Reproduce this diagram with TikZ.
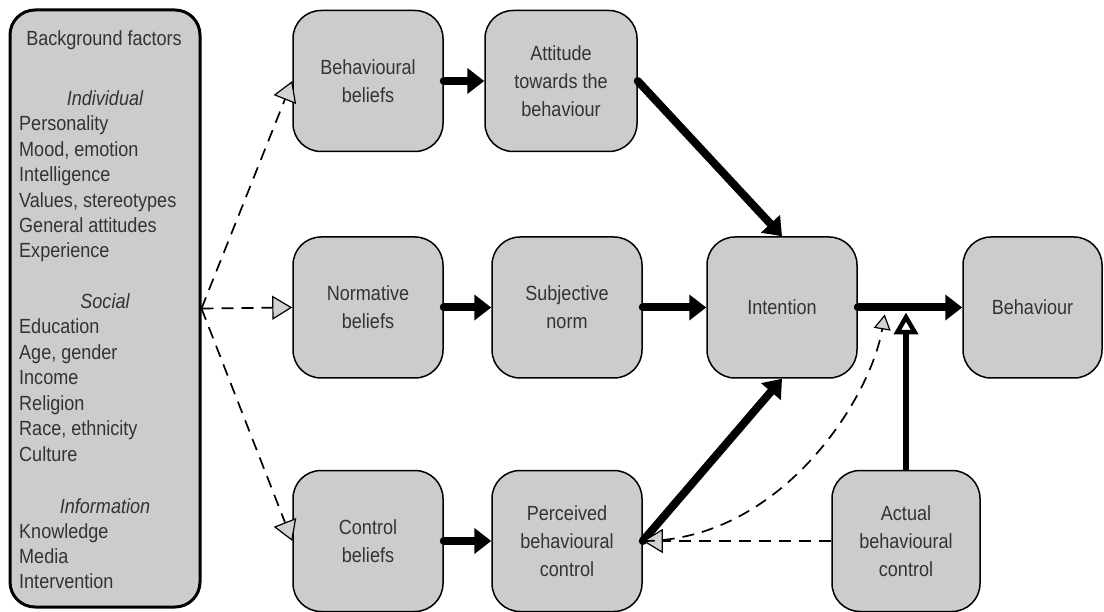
\documentclass[tikz,border=0pt]{standalone}
\usepackage{fontspec}
\setmainfont{Liberation Sans}[FakeStretch=0.88]
\usetikzlibrary{arrows.meta, calc, positioning}

\begin{document}
\begin{tikzpicture}[x=1pt, y=-1pt,
    box/.style={draw, fill=gray!40, line width=1.5pt, rounded corners=28pt,
        minimum width=150pt, minimum height=141pt, align=center,
        text=black!80, font=\fontsize{20.5}{28}\selectfont},
    item/.style={anchor=base west, inner sep=0pt, text=black!80,
        font=\fontsize{20.5}{22}\selectfont},
    head/.style={anchor=base, inner sep=0pt, text=black!80,
        font=\fontsize{20.5}{22}\selectfont\itshape},
    main/.style={line width=8pt, line cap=round,
        -{Triangle[length=17pt, width=25pt]}},
    infl/.style={line width=1.7pt, dash pattern=on 12pt off 8pt,
        -{Triangle[length=20pt, width=24pt, fill=gray!35, line width=1.2pt]}}
]
        \useasboundingbox (0,0) rectangle (1104,612);

        % Background factors
        \node[draw, fill=gray!40, line width=3pt, rounded corners=25pt,
            minimum width=190pt, minimum height=597pt] (bgf) at (105,308.5) {};
        \node[head, font=\fontsize{20.5}{22}\selectfont] (bgtitle) at (104,46) {Background factors};

        \node[head] (indiv) at (105,106) {Individual};
        \foreach \txt [count=\i] in {Personality, {Mood, emotion}, Intelligence,
            {Values, stereotypes}, General attitudes, Experience}
            \node[item] (ind\i) at (19,{131+25.4*(\i-1)}) {\txt};

        \node[head] (social) at (105,309) {Social};
        \foreach \txt [count=\i] in {Education, {Age, gender}, Income, Religion,
            {Race, ethnicity}, Culture}
            \node[item] (soc\i) at (19,{334+25.4*(\i-1)}) {\txt};

        \node[head] (inform) at (105,513) {Information};
        \foreach \txt [count=\i] in {Knowledge, Media, Intervention}
            \node[item] (inf\i) at (19,{538+25.4*(\i-1)}) {\txt};

        % Beliefs
        \node[box] (bbel) at (368,81) {Behavioural\\beliefs};
        \node[box] (nbel) at (368,307.5) {Normative\\beliefs};
        \node[box] (cbel) at (368,541) {Control\\beliefs};

        % Attitude, norm, control
        \node[box, minimum width=152pt] (att) at (561,81) {Attitude\\towards the\\behaviour};
        \node[box] (subj) at (567,307.5) {Subjective\\norm};
        \node[box] (pbc) at (567,541) {Perceived\\behavioural\\control};

        % Intention and behaviour
        \node[box] (intn) at (782,307.5) {Intention};
        \node[box, minimum width=139pt] (behv) at (1032.5,307.5) {Behaviour};
        \node[box, minimum width=148pt] (abc) at (906,541) {Actual\\behavioural\\control};

        % Dashed links from background factors
        \draw[infl] (bgf.east) -- (bbel.west);
        \draw[infl] (bgf.east) -- (nbel.west);
        \draw[infl] (bgf.east) -- (cbel.west);

        % Main paths
        \draw[main] (bbel) -- (att);
        \draw[main] (nbel) -- (subj);
        \draw[main] (cbel) -- (pbc);
        \draw[main] (att.east) -- (intn.north);
        \draw[main] (subj) -- (intn);
        \draw[main] (pbc.east) -- (intn.south);
        \draw[main] (intn) -- (behv);

        % Actual control
        \coordinate (ctl) at ($(abc.north |- intn.east)+(0,5)$);
        \draw[line width=6.5pt, -{Triangle[open, length=22pt, width=24pt, line width=4.5pt]}]
            (abc.north) -- (ctl);
        \draw[infl] (abc.west) -- (pbc.east);
        \coordinate (mod) at ($(intn.east)+(27,7)$);
        \draw[infl, -{Triangle[length=15pt, width=17pt, fill=gray!35, line width=1.2pt]}]
            (pbc.east) .. controls (780,541) and (870,400) .. (mod);

    \end{tikzpicture}
\end{document}
